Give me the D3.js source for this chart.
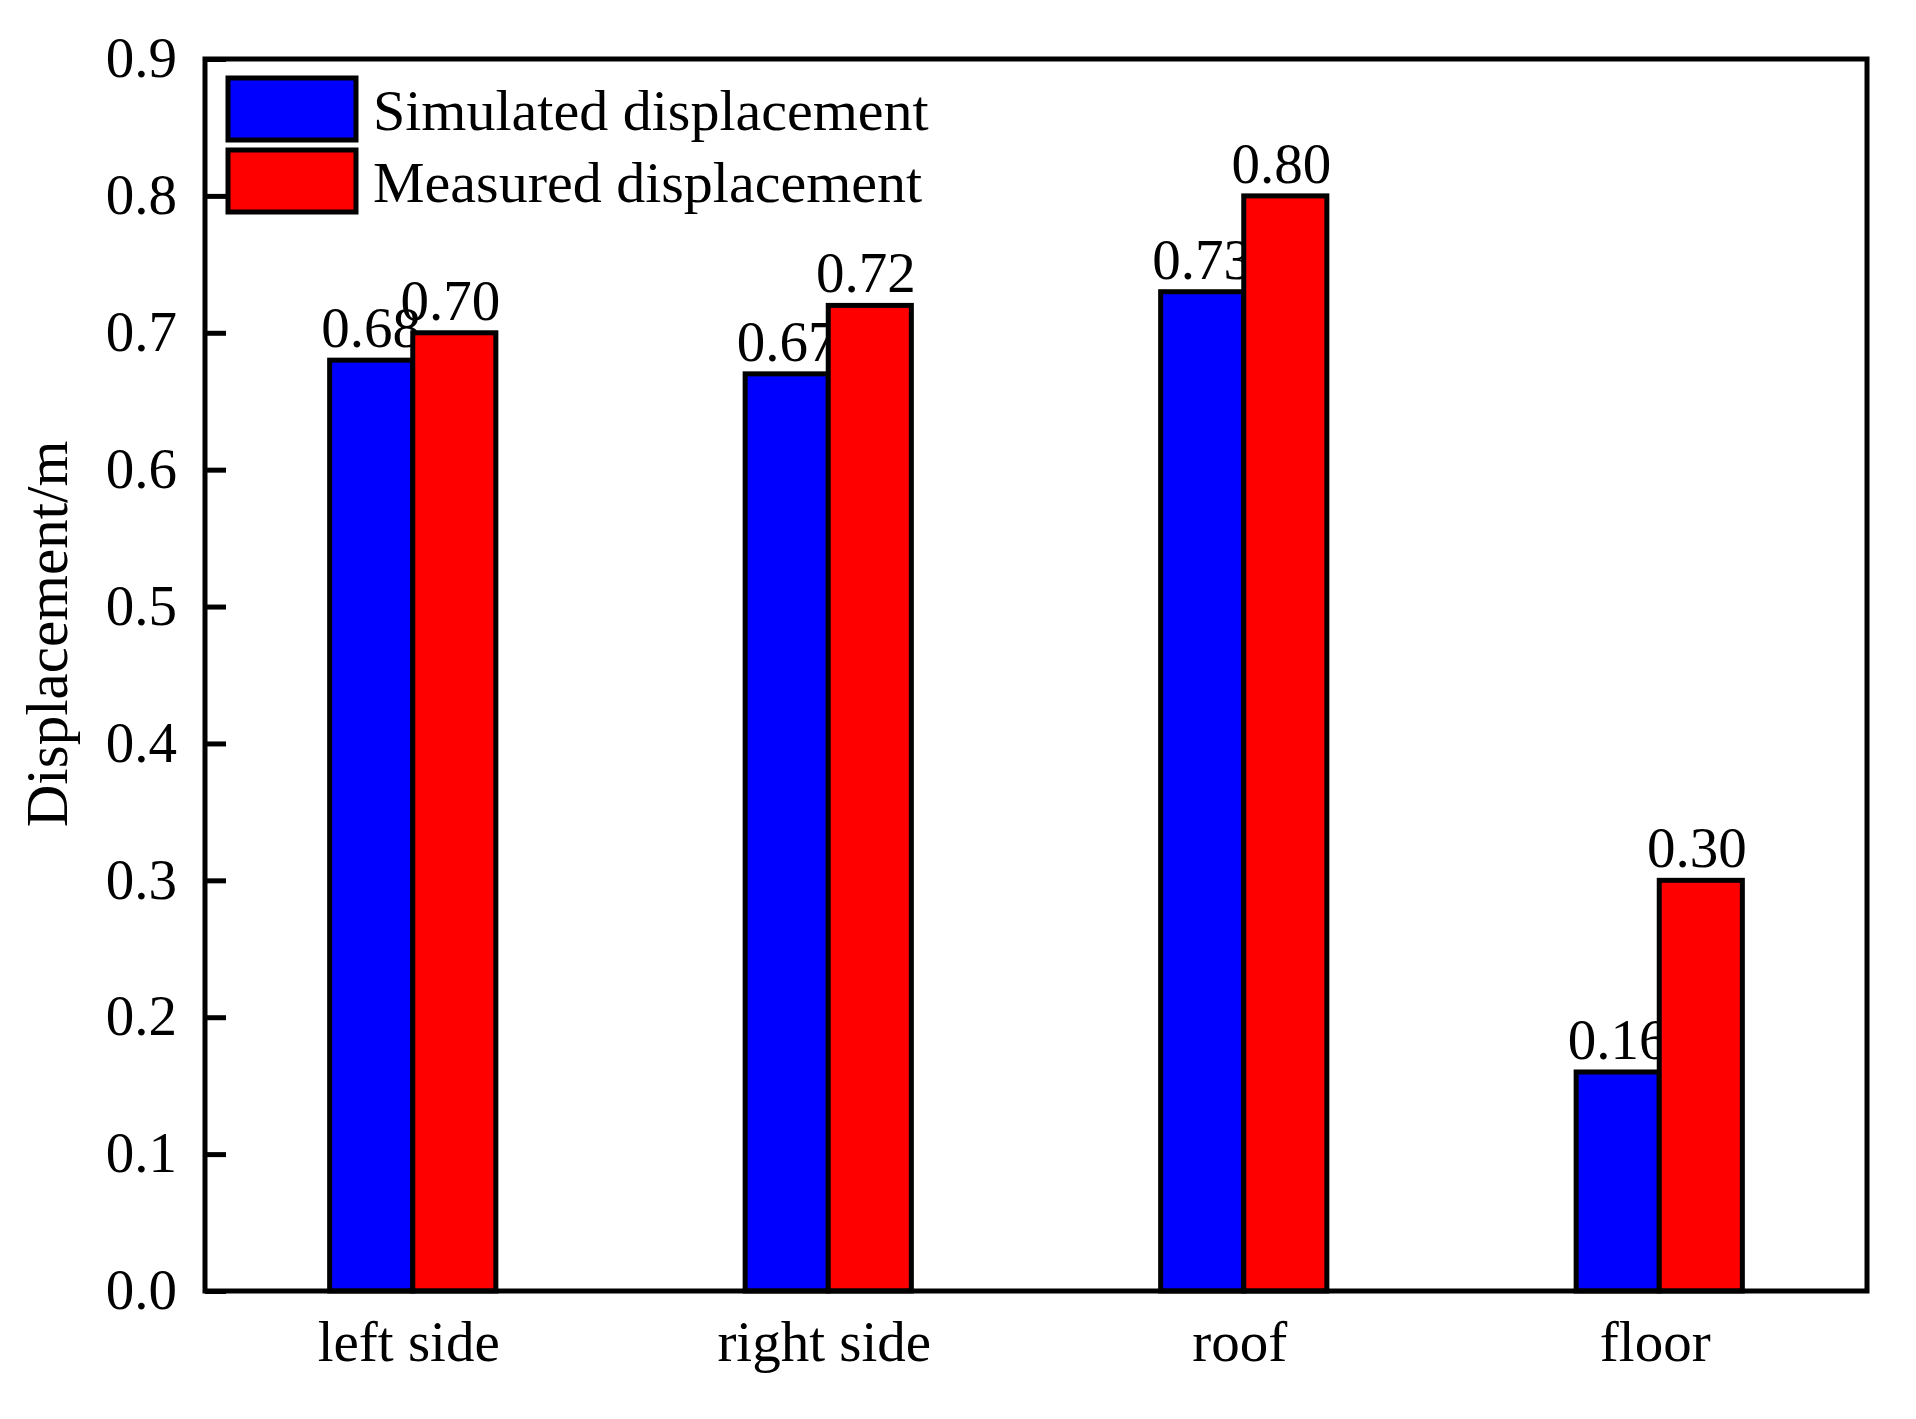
<!DOCTYPE html>
<html>
<head>
<meta charset="utf-8">
<script src="https://cdn.jsdelivr.net/npm/d3@7"></script>
<style>
  html, body { margin: 0; padding: 0; background: #fff; }
  svg { display: block; }
  text { font-family: "Liberation Serif", "Times New Roman", serif; fill: #000; }
</style>
</head>
<body>
<svg id="chart" width="1916" height="1419"></svg>
<script>
const categories = ["left side", "right side", "roof", "floor"];
const seriesNames = ["Simulated displacement", "Measured displacement"];
const simulated = [0.68, 0.67, 0.73, 0.16];
const measured = [0.70, 0.72, 0.80, 0.30];
const simulatedLabels = ["0.68", "0.67", "0.73", "0.16"];
const measuredLabels = ["0.70", "0.72", "0.80", "0.30"];
const yTicks = [0.0, 0.1, 0.2, 0.3, 0.4, 0.5, 0.6, 0.7, 0.8, 0.9];
const yTitle = "Displacement/m";
const colors = ["#0000ff", "#ff0000"];

const svg = d3.select("#chart");
const plot = { left: 205, right: 1867, top: 59, bottom: 1291 };
const fontSize = 57;

const x = d3.scaleBand().domain(categories).range([plot.left, plot.right]).paddingInner(0).paddingOuter(0);
const y = d3.scaleLinear().domain([0, 0.9]).range([plot.bottom, plot.top]);
const barW = x.bandwidth() * 0.2;

const series = [simulated, measured];
const seriesLabels = [simulatedLabels, measuredLabels];

// bars
series.forEach((vals, si) => {
  const g = svg.append("g");
  g.selectAll("rect").data(vals).join("rect")
    .attr("x", (d, i) => x(categories[i]) + x.bandwidth() / 2 + (si - 1) * barW)
    .attr("y", d => y(d))
    .attr("width", barW)
    .attr("height", d => y(0) - y(d))
    .attr("fill", colors[si])
    .attr("stroke", "#000")
    .attr("stroke-width", 5);
  g.selectAll("text").data(vals).join("text")
    .attr("x", (d, i) => x(categories[i]) + x.bandwidth() / 2 + (si - 0.5) * barW - si * 4)
    .attr("y", d => y(d) - 13)
    .attr("text-anchor", "middle")
    .attr("font-size", fontSize)
    .text((d, i) => seriesLabels[si][i]);
});

// y axis
const yAxis = d3.axisLeft(y).tickValues(yTicks).tickFormat(d3.format(".1f"))
  .tickSizeInner(-21).tickSizeOuter(0).tickPadding(28);
const gy = svg.append("g").attr("transform", `translate(${plot.left},0)`).call(yAxis);
gy.select(".domain").remove();
gy.selectAll(".tick line").attr("stroke", "#000").attr("stroke-width", 5);
gy.selectAll(".tick text").attr("font-size", fontSize)
  .attr("font-family", "Liberation Serif, serif").attr("dy", "0.31em");

// x axis
const xAxis = d3.axisBottom(x).tickSize(0).tickPadding(30);
const gx = svg.append("g").attr("transform", `translate(0,${plot.bottom})`).call(xAxis);
gx.select(".domain").remove();
gx.selectAll(".tick text").attr("font-size", fontSize)
  .attr("font-family", "Liberation Serif, serif").attr("dx", -4);

// frame
svg.append("rect")
  .attr("x", plot.left).attr("y", plot.top)
  .attr("width", plot.right - plot.left).attr("height", plot.bottom - plot.top)
  .attr("fill", "none").attr("stroke", "#000").attr("stroke-width", 5);

// y title
svg.append("text")
  .attr("transform", "translate(67,634) rotate(-90)")
  .attr("text-anchor", "middle")
  .attr("font-size", 59)
  .text(yTitle);

// legend
const legend = svg.append("g");
seriesNames.forEach((name, i) => {
  legend.append("rect")
    .attr("x", 228).attr("y", 78 + i * 72)
    .attr("width", 128).attr("height", 62)
    .attr("fill", colors[i]).attr("stroke", "#000").attr("stroke-width", 5);
  legend.append("text")
    .attr("x", 373).attr("y", 130 + i * 72)
    .attr("font-size", 58)
    .text(name);
});
</script>
</body>
</html>
